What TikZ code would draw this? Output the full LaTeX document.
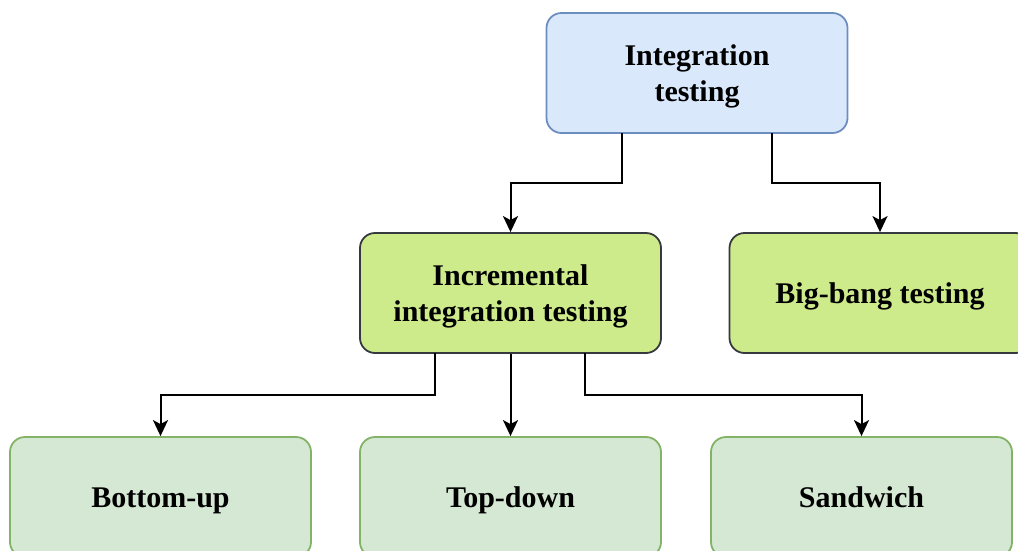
\documentclass[tikz,border=0pt]{standalone}
\usepackage{fontspec}
\setmainfont{Liberation Serif}
\usetikzlibrary{arrows.meta}
\definecolor{blueFill}{HTML}{DAE8FC}
\definecolor{blueLine}{HTML}{6C8EBF}
\definecolor{limeFill}{HTML}{CDEB8B}
\definecolor{limeLine}{HTML}{36393D}
\definecolor{greenFill}{HTML}{D5E8D4}
\definecolor{greenLine}{HTML}{82B366}
\tikzset{
  box/.style={rectangle, rounded corners=15pt, minimum width=301pt, minimum height=120pt,
    line width=1.8pt, align=center, inner sep=0pt, text height=28pt, text depth=8pt,
    font=\fontsize{30pt}{36pt}\selectfont\bfseries},
  twolines/.style={text height=64pt},
  rootbox/.style={box, draw=blueLine, fill=blueFill},
  midbox/.style={box, draw=limeLine, fill=limeFill},
  leafbox/.style={box, draw=greenLine, fill=greenFill},
  link/.style={line width=2pt, -{Stealth[length=16pt, width=15pt, inset=4pt]}}
}
\begin{document}
\begin{tikzpicture}[x=1pt, y=-1pt]
  \useasboundingbox (0,0) rectangle (1018,550);
  \node[rootbox, twolines] (root) at (697,73) {Integration\\testing};
  \node[midbox, twolines] (incr) at (510.5,293) {Incremental\\integration testing};
  \node[midbox] (bang) at (880,293) {Big-bang testing};
  \node[leafbox] (bup) at (160.5,497) {Bottom-up};
  \node[leafbox] (tdown) at (510.5,497) {Top-down};
  \node[leafbox] (sand) at (861.5,497) {Sandwich};

  \coordinate (r1) at (622,133);
  \coordinate (r2) at (772,133);
  \coordinate (i1) at (435,353);
  \coordinate (i3) at (585,353);

  \draw[link] (r1) |- (510.5,183) -- (incr.north);
  \draw[link] (r2) |- (880,183) -- (bang.north);
  \draw[link] (i1) |- (160.5,395) -- (bup.north);
  \draw[link] (incr.south) -- (tdown.north);
  \draw[link] (i3) |- (861.5,395) -- (sand.north);
\end{tikzpicture}
\end{document}
